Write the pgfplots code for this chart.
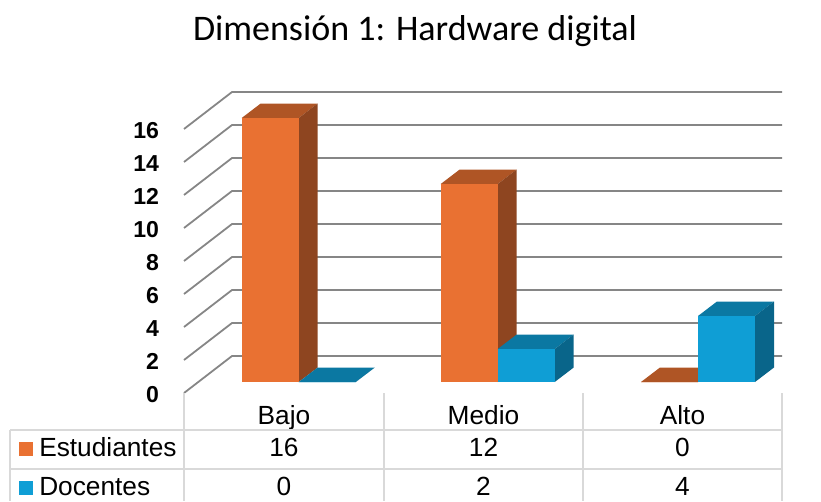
\documentclass[border=0pt]{standalone}
\usepackage{pgfplots}
\pgfplotsset{compat=1.18}
\usepackage{fontspec}
\setmainfont{Liberation Sans}
\newfontfamily\titlefont{Carlito}
\definecolor{orangeF}{HTML}{E97132}
\definecolor{orangeT}{HTML}{AF5525}
\definecolor{orangeS}{HTML}{8E4520}
\definecolor{blueF}{HTML}{0F9ED5}
\definecolor{blueT}{HTML}{0B78A2}
\definecolor{blueS}{HTML}{09658A}
\definecolor{gridc}{HTML}{868686}
\definecolor{tablec}{HTML}{D9D9D9}

% Bars stand 11 units above the front floor edge; their depth is 19 across, 14.5 up
\newcommand{\prism}[5]{%
  \pgfmathsetmacro{\xa}{#1}%
  \pgfmathsetmacro{\xb}{#1+57}%
  \pgfmathsetmacro{\xc}{#1+19}%
  \pgfmathsetmacro{\xd}{#1+76}%
  \pgfmathsetmacro{\yt}{#2+14.5/16.5}%
  \pgfmathsetmacro{\yf}{14.5/16.5}%
  \addplot[fill=#4,draw=none,yshift=8.25pt] coordinates {(\xa,#2)(\xc,\yt)(\xd,\yt)(\xb,#2)} -- cycle;
  \addplot[fill=#5,draw=none,yshift=8.25pt] coordinates {(\xb,0)(\xd,\yf)(\xd,\yt)(\xb,#2)} -- cycle;
  \addplot[fill=#3,draw=none,yshift=8.25pt] coordinates {(\xa,0)(\xa,#2)(\xb,#2)(\xb,0)} -- cycle;
}

\begin{document}
\begin{tikzpicture}
\path[use as bounding box] (0,0) rectangle (615.75pt,375.75pt);
\begin{axis}[
  at={(0,0)}, anchor=south west,
  scale only axis, width=615.75pt, height=375.75pt,
  xmin=0, xmax=821, ymin=-6.54545, ymax=23.81818,
  clip=false,
  axis line style={draw=none},
  major tick length=0pt,
  xtick={284,483.5,682.5},
  xticklabels={Bajo,Medio,Alto},
  x tick label style={font=\fontsize{19.7pt}{20pt}\selectfont, anchor=base, yshift=57.75pt, inner sep=0pt},
  ytick={0,2,...,16},
  yticklabel style={/pgf/number format/assume math mode=true,
    font=\fontsize{17.3pt}{18pt}\selectfont\bfseries, anchor=east, inner sep=0pt, xshift=119.5pt, yshift=-1pt},
]
% Floor and back wall rules, one per tick
\pgfplotsinvokeforeach{0,2,...,16}{
  \pgfmathsetmacro{\yb}{#1+37/16.5}
  \addplot[color=gridc,line width=1.35pt,line join=round] coordinates {(184,#1)(232,\yb)(782,\yb)};
}
% Bajo
\prism{241.7}{16}{orangeF}{orangeT}{orangeS}
\prism{298.7}{0}{blueF}{blueT}{blueS}
% Medio
\prism{440.7}{12}{orangeF}{orangeT}{orangeS}
\prism{497.7}{2}{blueF}{blueT}{blueS}
% Alto
\prism{641}{0}{orangeF}{orangeT}{orangeS}
\prism{698}{4}{blueF}{blueT}{blueS}
\end{axis}
% Title and the data table below the plot
\begin{scope}[x=0.75pt,y=-0.75pt,shift={(0,375.75pt)}]
  \node[font=\titlefont\fontsize{27pt}{29pt}\selectfont,anchor=base] at (415,41) {Dimensión 1: Hardware digital};
  \draw[tablec,line width=1.35pt] (10,430)--(782,430) (10,468.7)--(782,468.7);
  \draw[tablec,line width=1.35pt] (10,430)--(10,501);
  \foreach \x in {184,384,583,782} \draw[tablec,line width=1.35pt] (\x,393)--(\x,501);
  \fill[orangeF] (19,442) rectangle (33,456);
  \fill[blueF] (19,481) rectangle (33,495);
  \tikzset{cell/.style={font=\fontsize{19.7pt}{20pt}\selectfont,inner sep=0pt}}
  \node[cell,anchor=base west] at (39,456) {Estudiantes};
  \node[cell,anchor=base west] at (39,495.5) {Docentes};
  \foreach \x/\v in {284/16,483.5/12,682.5/0} \node[cell,anchor=base] at (\x,456.5) {\v};
  \foreach \x/\v in {284/0,483.5/2,682.5/4} \node[cell,anchor=base] at (\x,495.5) {\v};
\end{scope}
\end{tikzpicture}
\end{document}
